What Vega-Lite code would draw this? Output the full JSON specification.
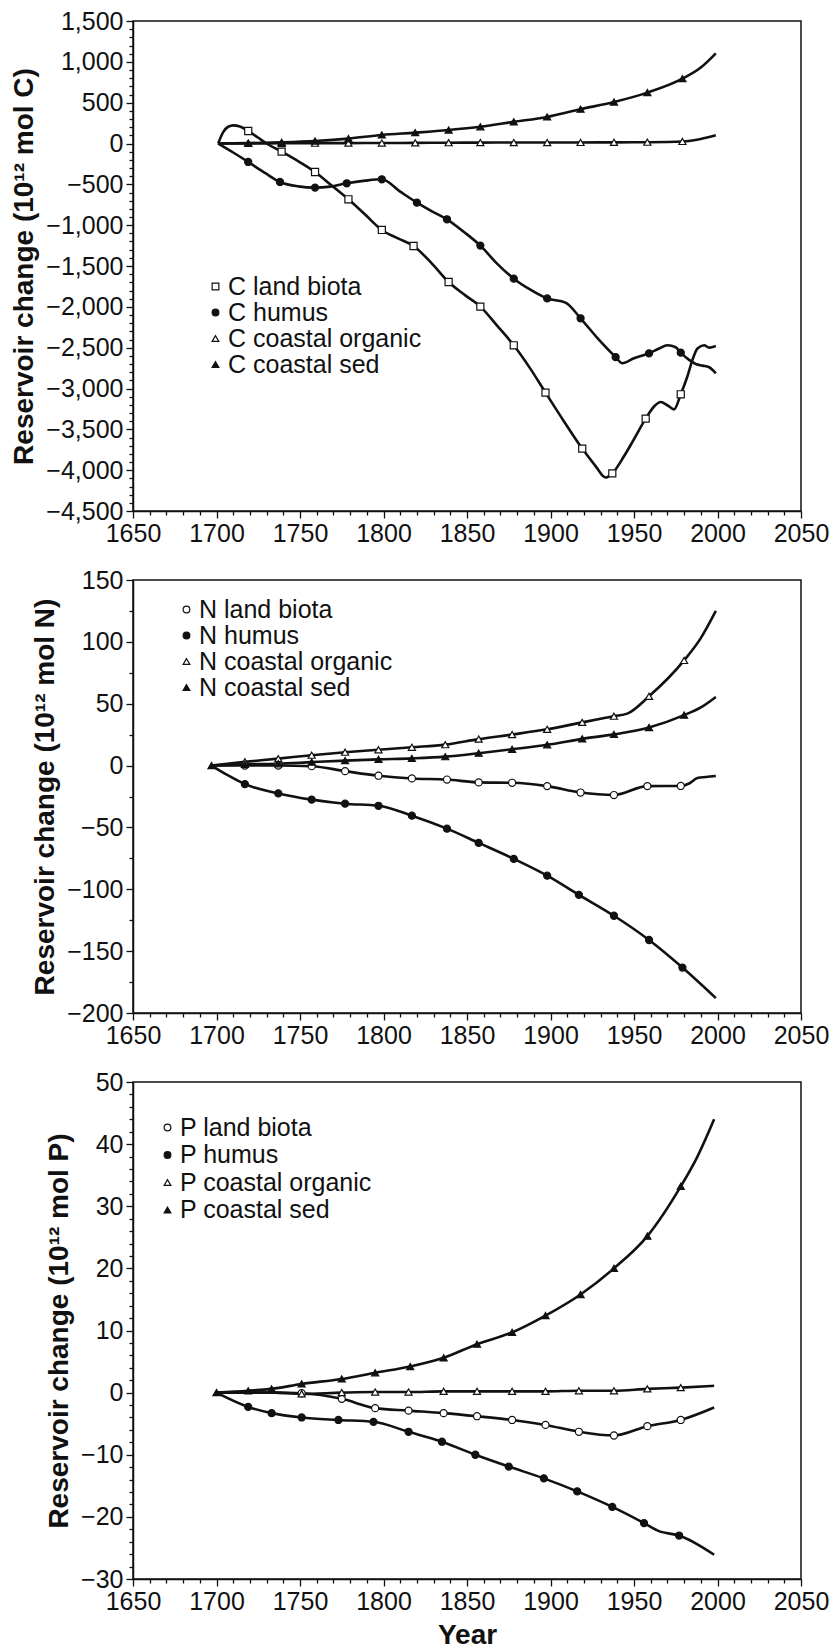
{
"$schema": "https://vega.github.io/schema/vega-lite/v6.json",
"padding": {"left": 10, "top": 8, "right": 2, "bottom": 5},
"spacing": 20,
"datasets": {
"c_line": [
{"series":"C land biota","year":1701,"value":0},{"series":"C land biota","year":1704,"value":140},{"series":"C land biota","year":1707,"value":205},{"series":"C land biota","year":1710,"value":222},{"series":"C land biota","year":1714,"value":208},{"series":"C land biota","year":1719,"value":153},{"series":"C land biota","year":1725,"value":70},{"series":"C land biota","year":1730,"value":0},{"series":"C land biota","year":1739,"value":-100},{"series":"C land biota","year":1750,"value":-230},{"series":"C land biota","year":1759,"value":-349},{"series":"C land biota","year":1769,"value":-515},{"series":"C land biota","year":1779,"value":-683},{"series":"C land biota","year":1789,"value":-870},{"series":"C land biota","year":1799,"value":-1059},{"series":"C land biota","year":1809,"value":-1165},{"series":"C land biota","year":1818,"value":-1255},{"series":"C land biota","year":1829,"value":-1470},{"series":"C land biota","year":1839,"value":-1696},{"series":"C land biota","year":1849,"value":-1860},{"series":"C land biota","year":1858,"value":-1997},{"series":"C land biota","year":1868,"value":-2230},{"series":"C land biota","year":1878,"value":-2471},{"series":"C land biota","year":1888,"value":-2760},{"series":"C land biota","year":1897,"value":-3050},{"series":"C land biota","year":1908,"value":-3400},{"series":"C land biota","year":1919,"value":-3736},{"series":"C land biota","year":1927,"value":-3950},{"series":"C land biota","year":1933,"value":-4090},{"series":"C land biota","year":1937,"value":-4040},{"series":"C land biota","year":1944,"value":-3830},{"series":"C land biota","year":1950,"value":-3620},{"series":"C land biota","year":1957,"value":-3369},{"series":"C land biota","year":1962,"value":-3220},{"series":"C land biota","year":1966,"value":-3165},{"series":"C land biota","year":1970,"value":-3205},{"series":"C land biota","year":1974,"value":-3255},{"series":"C land biota","year":1978,"value":-3071},{"series":"C land biota","year":1982,"value":-2850},{"series":"C land biota","year":1985,"value":-2650},{"series":"C land biota","year":1988,"value":-2510},{"series":"C land biota","year":1992,"value":-2470},{"series":"C land biota","year":1995,"value":-2500},{"series":"C land biota","year":1999,"value":-2480},
{"series":"C humus","year":1701,"value":0},{"series":"C humus","year":1710,"value":-110},{"series":"C humus","year":1719,"value":-226},{"series":"C humus","year":1729,"value":-360},{"series":"C humus","year":1738,"value":-471},{"series":"C humus","year":1749,"value":-525},{"series":"C humus","year":1759,"value":-540},{"series":"C humus","year":1768,"value":-528},{"series":"C humus","year":1778,"value":-487},{"series":"C humus","year":1789,"value":-455},{"series":"C humus","year":1799,"value":-438},{"series":"C humus","year":1810,"value":-590},{"series":"C humus","year":1820,"value":-724},{"series":"C humus","year":1829,"value":-830},{"series":"C humus","year":1838,"value":-928},{"series":"C humus","year":1848,"value":-1080},{"series":"C humus","year":1858,"value":-1250},{"series":"C humus","year":1868,"value":-1470},{"series":"C humus","year":1878,"value":-1655},{"series":"C humus","year":1888,"value":-1790},{"series":"C humus","year":1898,"value":-1897},{"series":"C humus","year":1909,"value":-1948},{"series":"C humus","year":1918,"value":-2140},{"series":"C humus","year":1928,"value":-2380},{"series":"C humus","year":1939,"value":-2615},{"series":"C humus","year":1943,"value":-2691},{"series":"C humus","year":1950,"value":-2630},{"series":"C humus","year":1959,"value":-2569},{"series":"C humus","year":1965,"value":-2510},{"series":"C humus","year":1970,"value":-2471},{"series":"C humus","year":1975,"value":-2495},{"series":"C humus","year":1978,"value":-2561},{"series":"C humus","year":1983,"value":-2650},{"series":"C humus","year":1987,"value":-2700},{"series":"C humus","year":1991,"value":-2720},{"series":"C humus","year":1995,"value":-2740},{"series":"C humus","year":1999,"value":-2814},
{"series":"C coastal organic","year":1701,"value":0},{"series":"C coastal organic","year":1719,"value":1},{"series":"C coastal organic","year":1739,"value":3},{"series":"C coastal organic","year":1759,"value":4},{"series":"C coastal organic","year":1779,"value":5},{"series":"C coastal organic","year":1799,"value":6},{"series":"C coastal organic","year":1819,"value":8},{"series":"C coastal organic","year":1839,"value":10},{"series":"C coastal organic","year":1858,"value":11},{"series":"C coastal organic","year":1878,"value":12},{"series":"C coastal organic","year":1898,"value":12},{"series":"C coastal organic","year":1918,"value":13},{"series":"C coastal organic","year":1938,"value":14},{"series":"C coastal organic","year":1958,"value":16},{"series":"C coastal organic","year":1979,"value":25},{"series":"C coastal organic","year":1990,"value":55},{"series":"C coastal organic","year":1999,"value":100},
{"series":"C coastal sed","year":1701,"value":0},{"series":"C coastal sed","year":1719,"value":5},{"series":"C coastal sed","year":1739,"value":15},{"series":"C coastal sed","year":1759,"value":31},{"series":"C coastal sed","year":1779,"value":60},{"series":"C coastal sed","year":1799,"value":105},{"series":"C coastal sed","year":1819,"value":133},{"series":"C coastal sed","year":1839,"value":165},{"series":"C coastal sed","year":1858,"value":205},{"series":"C coastal sed","year":1878,"value":265},{"series":"C coastal sed","year":1898,"value":325},{"series":"C coastal sed","year":1918,"value":420},{"series":"C coastal sed","year":1938,"value":508},{"series":"C coastal sed","year":1958,"value":623},{"series":"C coastal sed","year":1979,"value":794},{"series":"C coastal sed","year":1990,"value":930},{"series":"C coastal sed","year":1999,"value":1104}
],
"c_pts": [
{"series":"C land biota","year":1719,"value":153},{"series":"C land biota","year":1739,"value":-100},{"series":"C land biota","year":1759,"value":-349},{"series":"C land biota","year":1779,"value":-683},{"series":"C land biota","year":1799,"value":-1059},{"series":"C land biota","year":1818,"value":-1255},{"series":"C land biota","year":1839,"value":-1696},{"series":"C land biota","year":1858,"value":-1997},{"series":"C land biota","year":1878,"value":-2471},{"series":"C land biota","year":1897,"value":-3050},{"series":"C land biota","year":1919,"value":-3736},{"series":"C land biota","year":1937,"value":-4040},{"series":"C land biota","year":1957,"value":-3369},{"series":"C land biota","year":1978,"value":-3071},
{"series":"C humus","year":1719,"value":-226},{"series":"C humus","year":1738,"value":-471},{"series":"C humus","year":1759,"value":-540},{"series":"C humus","year":1778,"value":-487},{"series":"C humus","year":1799,"value":-438},{"series":"C humus","year":1820,"value":-724},{"series":"C humus","year":1838,"value":-928},{"series":"C humus","year":1858,"value":-1250},{"series":"C humus","year":1878,"value":-1655},{"series":"C humus","year":1898,"value":-1897},{"series":"C humus","year":1918,"value":-2140},{"series":"C humus","year":1939,"value":-2615},{"series":"C humus","year":1959,"value":-2569},{"series":"C humus","year":1978,"value":-2561},
{"series":"C coastal organic","year":1719,"value":1},{"series":"C coastal organic","year":1739,"value":3},{"series":"C coastal organic","year":1759,"value":4},{"series":"C coastal organic","year":1779,"value":5},{"series":"C coastal organic","year":1799,"value":6},{"series":"C coastal organic","year":1819,"value":8},{"series":"C coastal organic","year":1839,"value":10},{"series":"C coastal organic","year":1858,"value":11},{"series":"C coastal organic","year":1878,"value":12},{"series":"C coastal organic","year":1898,"value":12},{"series":"C coastal organic","year":1918,"value":13},{"series":"C coastal organic","year":1938,"value":14},{"series":"C coastal organic","year":1958,"value":16},{"series":"C coastal organic","year":1979,"value":25},
{"series":"C coastal sed","year":1719,"value":5},{"series":"C coastal sed","year":1739,"value":15},{"series":"C coastal sed","year":1759,"value":31},{"series":"C coastal sed","year":1779,"value":60},{"series":"C coastal sed","year":1799,"value":105},{"series":"C coastal sed","year":1819,"value":133},{"series":"C coastal sed","year":1839,"value":165},{"series":"C coastal sed","year":1858,"value":205},{"series":"C coastal sed","year":1878,"value":265},{"series":"C coastal sed","year":1898,"value":325},{"series":"C coastal sed","year":1918,"value":420},{"series":"C coastal sed","year":1938,"value":508},{"series":"C coastal sed","year":1958,"value":623},{"series":"C coastal sed","year":1979,"value":794}
],
"n_line": [
{"series":"N land biota","year":1697,"value":0},{"series":"N land biota","year":1717,"value":0},{"series":"N land biota","year":1737,"value":0},{"series":"N land biota","year":1757,"value":-0.5},{"series":"N land biota","year":1777,"value":-4.5},{"series":"N land biota","year":1797,"value":-8.2},{"series":"N land biota","year":1817,"value":-10.4},{"series":"N land biota","year":1838,"value":-11.3},{"series":"N land biota","year":1857,"value":-13.6},{"series":"N land biota","year":1877,"value":-13.9},{"series":"N land biota","year":1898,"value":-16.6},{"series":"N land biota","year":1918,"value":-21.8},{"series":"N land biota","year":1938,"value":-23.8},{"series":"N land biota","year":1958,"value":-16.6},{"series":"N land biota","year":1978,"value":-16.5},{"series":"N land biota","year":1983,"value":-14.5},{"series":"N land biota","year":1988,"value":-10},{"series":"N land biota","year":1993,"value":-9.2},{"series":"N land biota","year":1999,"value":-8.4},
{"series":"N humus","year":1697,"value":0},{"series":"N humus","year":1707,"value":-8},{"series":"N humus","year":1717,"value":-15},{"series":"N humus","year":1737,"value":-22.5},{"series":"N humus","year":1757,"value":-27.5},{"series":"N humus","year":1777,"value":-30.8},{"series":"N humus","year":1797,"value":-32.5},{"series":"N humus","year":1817,"value":-40.5},{"series":"N humus","year":1838,"value":-51},{"series":"N humus","year":1857,"value":-62.5},{"series":"N humus","year":1878,"value":-75.4},{"series":"N humus","year":1898,"value":-89},{"series":"N humus","year":1917,"value":-104.5},{"series":"N humus","year":1938,"value":-121.4},{"series":"N humus","year":1959,"value":-141},{"series":"N humus","year":1979,"value":-163.3},{"series":"N humus","year":1999,"value":-188},
{"series":"N coastal organic","year":1697,"value":0},{"series":"N coastal organic","year":1717,"value":3},{"series":"N coastal organic","year":1737,"value":5.6},{"series":"N coastal organic","year":1757,"value":8.4},{"series":"N coastal organic","year":1777,"value":10.8},{"series":"N coastal organic","year":1797,"value":12.8},{"series":"N coastal organic","year":1817,"value":14.8},{"series":"N coastal organic","year":1837,"value":16.9},{"series":"N coastal organic","year":1857,"value":21.4},{"series":"N coastal organic","year":1877,"value":25.1},{"series":"N coastal organic","year":1898,"value":29.3},{"series":"N coastal organic","year":1919,"value":34.9},{"series":"N coastal organic","year":1938,"value":39.9},{"series":"N coastal organic","year":1946,"value":42},{"series":"N coastal organic","year":1959,"value":56},{"series":"N coastal organic","year":1980,"value":85},{"series":"N coastal organic","year":1990,"value":103},{"series":"N coastal organic","year":1999,"value":125},
{"series":"N coastal sed","year":1697,"value":0},{"series":"N coastal sed","year":1717,"value":1},{"series":"N coastal sed","year":1737,"value":1.5},{"series":"N coastal sed","year":1757,"value":2.8},{"series":"N coastal sed","year":1777,"value":4},{"series":"N coastal sed","year":1797,"value":5},{"series":"N coastal sed","year":1817,"value":5.8},{"series":"N coastal sed","year":1837,"value":7.2},{"series":"N coastal sed","year":1857,"value":10},{"series":"N coastal sed","year":1877,"value":13.2},{"series":"N coastal sed","year":1898,"value":16.8},{"series":"N coastal sed","year":1919,"value":21.6},{"series":"N coastal sed","year":1938,"value":25.2},{"series":"N coastal sed","year":1959,"value":30.8},{"series":"N coastal sed","year":1980,"value":40.8},{"series":"N coastal sed","year":1990,"value":47},{"series":"N coastal sed","year":1999,"value":55.5}
],
"n_pts": [
{"series":"N land biota","year":1717,"value":0},{"series":"N land biota","year":1737,"value":0},{"series":"N land biota","year":1757,"value":-0.5},{"series":"N land biota","year":1777,"value":-4.5},{"series":"N land biota","year":1797,"value":-8.2},{"series":"N land biota","year":1817,"value":-10.4},{"series":"N land biota","year":1838,"value":-11.3},{"series":"N land biota","year":1857,"value":-13.6},{"series":"N land biota","year":1877,"value":-13.9},{"series":"N land biota","year":1898,"value":-16.6},{"series":"N land biota","year":1918,"value":-21.8},{"series":"N land biota","year":1938,"value":-23.8},{"series":"N land biota","year":1958,"value":-16.6},{"series":"N land biota","year":1978,"value":-16.5},
{"series":"N humus","year":1717,"value":-15},{"series":"N humus","year":1737,"value":-22.5},{"series":"N humus","year":1757,"value":-27.5},{"series":"N humus","year":1777,"value":-30.8},{"series":"N humus","year":1797,"value":-32.5},{"series":"N humus","year":1817,"value":-40.5},{"series":"N humus","year":1838,"value":-51},{"series":"N humus","year":1857,"value":-62.5},{"series":"N humus","year":1878,"value":-75.4},{"series":"N humus","year":1898,"value":-89},{"series":"N humus","year":1917,"value":-104.5},{"series":"N humus","year":1938,"value":-121.4},{"series":"N humus","year":1959,"value":-141},{"series":"N humus","year":1979,"value":-163.3},
{"series":"N coastal organic","year":1717,"value":3},{"series":"N coastal organic","year":1737,"value":5.6},{"series":"N coastal organic","year":1757,"value":8.4},{"series":"N coastal organic","year":1777,"value":10.8},{"series":"N coastal organic","year":1797,"value":12.8},{"series":"N coastal organic","year":1817,"value":14.8},{"series":"N coastal organic","year":1837,"value":16.9},{"series":"N coastal organic","year":1857,"value":21.4},{"series":"N coastal organic","year":1877,"value":25.1},{"series":"N coastal organic","year":1898,"value":29.3},{"series":"N coastal organic","year":1919,"value":34.9},{"series":"N coastal organic","year":1938,"value":39.9},{"series":"N coastal organic","year":1959,"value":56},{"series":"N coastal organic","year":1980,"value":85},
{"series":"N coastal sed","year":1697,"value":0},{"series":"N coastal sed","year":1717,"value":1},{"series":"N coastal sed","year":1737,"value":1.5},{"series":"N coastal sed","year":1757,"value":2.8},{"series":"N coastal sed","year":1777,"value":4},{"series":"N coastal sed","year":1797,"value":5},{"series":"N coastal sed","year":1817,"value":5.8},{"series":"N coastal sed","year":1837,"value":7.2},{"series":"N coastal sed","year":1857,"value":10},{"series":"N coastal sed","year":1877,"value":13.2},{"series":"N coastal sed","year":1898,"value":16.8},{"series":"N coastal sed","year":1919,"value":21.6},{"series":"N coastal sed","year":1938,"value":25.2},{"series":"N coastal sed","year":1959,"value":30.8},{"series":"N coastal sed","year":1980,"value":40.8}
],
"p_line": [
{"series":"P land biota","year":1700,"value":0},{"series":"P land biota","year":1719,"value":0},{"series":"P land biota","year":1735,"value":0},{"series":"P land biota","year":1751,"value":-0.1},{"series":"P land biota","year":1775,"value":-1},{"series":"P land biota","year":1795,"value":-2.5},{"series":"P land biota","year":1815,"value":-2.9},{"series":"P land biota","year":1836,"value":-3.3},{"series":"P land biota","year":1856,"value":-3.8},{"series":"P land biota","year":1877,"value":-4.4},{"series":"P land biota","year":1897,"value":-5.2},{"series":"P land biota","year":1917,"value":-6.3},{"series":"P land biota","year":1938,"value":-6.9},{"series":"P land biota","year":1958,"value":-5.4},{"series":"P land biota","year":1978,"value":-4.4},{"series":"P land biota","year":1998,"value":-2.4},
{"series":"P humus","year":1700,"value":0},{"series":"P humus","year":1719,"value":-2.3},{"series":"P humus","year":1733,"value":-3.3},{"series":"P humus","year":1751,"value":-4},{"series":"P humus","year":1773,"value":-4.4},{"series":"P humus","year":1794,"value":-4.7},{"series":"P humus","year":1815,"value":-6.3},{"series":"P humus","year":1835,"value":-7.9},{"series":"P humus","year":1855,"value":-10},{"series":"P humus","year":1875,"value":-11.9},{"series":"P humus","year":1896,"value":-13.8},{"series":"P humus","year":1916,"value":-15.9},{"series":"P humus","year":1937,"value":-18.4},{"series":"P humus","year":1956,"value":-21},{"series":"P humus","year":1965,"value":-22.3},{"series":"P humus","year":1977,"value":-23},{"series":"P humus","year":1998,"value":-26.1},
{"series":"P coastal organic","year":1700,"value":0},{"series":"P coastal organic","year":1719,"value":0},{"series":"P coastal organic","year":1735,"value":0},{"series":"P coastal organic","year":1751,"value":-0.2},{"series":"P coastal organic","year":1775,"value":0},{"series":"P coastal organic","year":1795,"value":0.1},{"series":"P coastal organic","year":1815,"value":0.1},{"series":"P coastal organic","year":1836,"value":0.2},{"series":"P coastal organic","year":1856,"value":0.2},{"series":"P coastal organic","year":1877,"value":0.2},{"series":"P coastal organic","year":1897,"value":0.2},{"series":"P coastal organic","year":1917,"value":0.3},{"series":"P coastal organic","year":1938,"value":0.3},{"series":"P coastal organic","year":1958,"value":0.6},{"series":"P coastal organic","year":1978,"value":0.8},{"series":"P coastal organic","year":1998,"value":1.1},
{"series":"P coastal sed","year":1700,"value":0},{"series":"P coastal sed","year":1719,"value":0.3},{"series":"P coastal sed","year":1733,"value":0.6},{"series":"P coastal sed","year":1751,"value":1.4},{"series":"P coastal sed","year":1775,"value":2.2},{"series":"P coastal sed","year":1795,"value":3.2},{"series":"P coastal sed","year":1816,"value":4.2},{"series":"P coastal sed","year":1836,"value":5.6},{"series":"P coastal sed","year":1856,"value":7.8},{"series":"P coastal sed","year":1877,"value":9.7},{"series":"P coastal sed","year":1897,"value":12.4},{"series":"P coastal sed","year":1918,"value":15.8},{"series":"P coastal sed","year":1938,"value":20},{"series":"P coastal sed","year":1958,"value":25.2},{"series":"P coastal sed","year":1978,"value":33.2},{"series":"P coastal sed","year":1988,"value":38},{"series":"P coastal sed","year":1998,"value":44}
],
"p_pts": [
{"series":"P land biota","year":1751,"value":-0.1},{"series":"P land biota","year":1775,"value":-1},{"series":"P land biota","year":1795,"value":-2.5},{"series":"P land biota","year":1815,"value":-2.9},{"series":"P land biota","year":1836,"value":-3.3},{"series":"P land biota","year":1856,"value":-3.8},{"series":"P land biota","year":1877,"value":-4.4},{"series":"P land biota","year":1897,"value":-5.2},{"series":"P land biota","year":1917,"value":-6.3},{"series":"P land biota","year":1938,"value":-6.9},{"series":"P land biota","year":1958,"value":-5.4},{"series":"P land biota","year":1978,"value":-4.4},
{"series":"P humus","year":1719,"value":-2.3},{"series":"P humus","year":1733,"value":-3.3},{"series":"P humus","year":1751,"value":-4},{"series":"P humus","year":1773,"value":-4.4},{"series":"P humus","year":1794,"value":-4.7},{"series":"P humus","year":1815,"value":-6.3},{"series":"P humus","year":1835,"value":-7.9},{"series":"P humus","year":1855,"value":-10},{"series":"P humus","year":1875,"value":-11.9},{"series":"P humus","year":1896,"value":-13.8},{"series":"P humus","year":1916,"value":-15.9},{"series":"P humus","year":1937,"value":-18.4},{"series":"P humus","year":1956,"value":-21},{"series":"P humus","year":1977,"value":-23},
{"series":"P coastal organic","year":1751,"value":-0.2},{"series":"P coastal organic","year":1775,"value":0},{"series":"P coastal organic","year":1795,"value":0.1},{"series":"P coastal organic","year":1815,"value":0.1},{"series":"P coastal organic","year":1836,"value":0.2},{"series":"P coastal organic","year":1856,"value":0.2},{"series":"P coastal organic","year":1877,"value":0.2},{"series":"P coastal organic","year":1897,"value":0.2},{"series":"P coastal organic","year":1917,"value":0.3},{"series":"P coastal organic","year":1938,"value":0.3},{"series":"P coastal organic","year":1958,"value":0.6},{"series":"P coastal organic","year":1978,"value":0.8},
{"series":"P coastal sed","year":1700,"value":0},{"series":"P coastal sed","year":1719,"value":0.3},{"series":"P coastal sed","year":1733,"value":0.6},{"series":"P coastal sed","year":1751,"value":1.4},{"series":"P coastal sed","year":1775,"value":2.2},{"series":"P coastal sed","year":1795,"value":3.2},{"series":"P coastal sed","year":1816,"value":4.2},{"series":"P coastal sed","year":1836,"value":5.6},{"series":"P coastal sed","year":1856,"value":7.8},{"series":"P coastal sed","year":1877,"value":9.7},{"series":"P coastal sed","year":1897,"value":12.4},{"series":"P coastal sed","year":1918,"value":15.8},{"series":"P coastal sed","year":1938,"value":20},{"series":"P coastal sed","year":1958,"value":25.2},{"series":"P coastal sed","year":1978,"value":33.2}
]
},
"vconcat": [
{
"width": 668, "height": 490,
"resolve": {"axis": {"x": "independent", "y": "independent"}},
"layer": [
{"data": {"name": "c_line"}, "mark": {"type": "line", "color": "#111", "strokeWidth": 2.6, "interpolate": "monotone"},
 "encoding": {
  "x": {"field": "year", "type": "quantitative", "scale": {"domain": [1650, 2050], "nice": false, "zero": false},
        "axis": {"orient": "bottom", "title": null, "values": [1650,1700,1750,1800,1850,1900,1950,2000,2050], "format": "d", "tickSize": 7}},
  "y": {"field": "value", "type": "quantitative", "scale": {"domain": [-4500, 1500], "nice": false, "zero": false},
        "axis": {"orient": "left", "title": "Reservoir change (10¹² mol C)", "values": [-4500,-4000,-3500,-3000,-2500,-2000,-1500,-1000,-500,0,500,1000,1500], "format": ",d", "tickSize": 7}},
  "detail": {"field": "series"}
 }},
{"data": {"name": "c_pts"}, "mark": {"type": "point", "filled": true, "strokeWidth": 1.2, "opacity": 1, "size": 50},
 "encoding": {
  "x": {"field": "year", "type": "quantitative", "axis": {"orient": "bottom", "title": null, "labels": false, "domain": false, "tickSize": 4, "values": [1660,1670,1680,1690,1710,1720,1730,1740,1760,1770,1780,1790,1810,1820,1830,1840,1860,1870,1880,1890,1910,1920,1930,1940,1960,1970,1980,1990,2010,2020,2030,2040]}},
  "y": {"field": "value", "type": "quantitative", "axis": {"orient": "left", "title": null, "labels": false, "domain": false, "tickSize": 4, "values": [-4400,-4300,-4200,-4100,-3900,-3800,-3700,-3600,-3400,-3300,-3200,-3100,-2900,-2800,-2700,-2600,-2400,-2300,-2200,-2100,-1900,-1800,-1700,-1600,-1400,-1300,-1200,-1100,-900,-800,-700,-600,-400,-300,-200,-100,100,200,300,400,600,700,800,900,1100,1200,1300,1400]}},
  "shape": {"field": "series", "type": "nominal", "scale": {"domain": ["C land biota","C humus","C coastal organic","C coastal sed"], "range": ["square","circle","triangle-up","triangle-up"]},
            "legend": {"title": null, "orient": "none", "legendX": 70, "legendY": 253, "rowPadding": -1}},
  "fill": {"field": "series", "type": "nominal", "scale": {"domain": ["C land biota","C humus","C coastal organic","C coastal sed"], "range": ["white","#111","white","#111"]},
            "legend": {"title": null, "orient": "none", "legendX": 70, "legendY": 253, "rowPadding": -1}},
  "stroke": {"field": "series", "type": "nominal", "scale": {"domain": ["C land biota","C humus","C coastal organic","C coastal sed"], "range": ["#111","#111","#111","#111"]},
            "legend": {"title": null, "orient": "none", "legendX": 70, "legendY": 253, "rowPadding": -1}}
 }}
]
},
{
"width": 668, "height": 433,
"resolve": {"axis": {"x": "independent", "y": "independent"}},
"layer": [
{"data": {"name": "n_line"}, "mark": {"type": "line", "color": "#111", "strokeWidth": 2.6, "interpolate": "monotone"},
 "encoding": {
  "x": {"field": "year", "type": "quantitative", "scale": {"domain": [1650, 2050], "nice": false, "zero": false},
        "axis": {"orient": "bottom", "title": null, "values": [1650,1700,1750,1800,1850,1900,1950,2000,2050], "format": "d", "tickSize": 7}},
  "y": {"field": "value", "type": "quantitative", "scale": {"domain": [-200, 150], "nice": false, "zero": false},
        "axis": {"orient": "left", "title": "Reservoir change (10¹² mol N)", "values": [-200,-150,-100,-50,0,50,100,150], "format": ",d", "tickSize": 7}},
  "detail": {"field": "series"}
 }},
{"data": {"name": "n_pts"}, "mark": {"type": "point", "filled": true, "strokeWidth": 1.2, "opacity": 1, "size": 50},
 "encoding": {
  "x": {"field": "year", "type": "quantitative", "axis": {"orient": "bottom", "title": null, "labels": false, "domain": false, "tickSize": 4, "values": [1660,1670,1680,1690,1710,1720,1730,1740,1760,1770,1780,1790,1810,1820,1830,1840,1860,1870,1880,1890,1910,1920,1930,1940,1960,1970,1980,1990,2010,2020,2030,2040]}},
  "y": {"field": "value", "type": "quantitative", "axis": {"orient": "left", "title": null, "labels": false, "domain": false, "tickSize": 4, "values": [-175,-125,-75,-25,25,75,125]}},
  "shape": {"field": "series", "type": "nominal", "scale": {"domain": ["N land biota","N humus","N coastal organic","N coastal sed"], "range": ["circle","circle","triangle-up","triangle-up"]},
            "legend": {"title": null, "orient": "none", "legendX": 41, "legendY": 17, "rowPadding": 0}},
  "fill": {"field": "series", "type": "nominal", "scale": {"domain": ["N land biota","N humus","N coastal organic","N coastal sed"], "range": ["white","#111","white","#111"]},
            "legend": {"title": null, "orient": "none", "legendX": 41, "legendY": 17, "rowPadding": 0}},
  "stroke": {"field": "series", "type": "nominal", "scale": {"domain": ["N land biota","N humus","N coastal organic","N coastal sed"], "range": ["#111","#111","#111","#111"]},
            "legend": {"title": null, "orient": "none", "legendX": 41, "legendY": 17, "rowPadding": 0}}
 }}
]
},
{
"width": 668, "height": 497,
"resolve": {"axis": {"x": "independent", "y": "independent"}},
"layer": [
{"data": {"name": "p_line"}, "mark": {"type": "line", "color": "#111", "strokeWidth": 2.6, "interpolate": "monotone"},
 "encoding": {
  "x": {"field": "year", "type": "quantitative", "scale": {"domain": [1650, 2050], "nice": false, "zero": false},
        "axis": {"orient": "bottom", "title": "Year", "values": [1650,1700,1750,1800,1850,1900,1950,2000,2050], "format": "d", "tickSize": 7}},
  "y": {"field": "value", "type": "quantitative", "scale": {"domain": [-30, 50], "nice": false, "zero": false},
        "axis": {"orient": "left", "title": "Reservoir change (10¹² mol P)", "values": [-30,-20,-10,0,10,20,30,40,50], "format": ",d", "tickSize": 7}},
  "detail": {"field": "series"}
 }},
{"data": {"name": "p_pts"}, "mark": {"type": "point", "filled": true, "strokeWidth": 1.2, "opacity": 1, "size": 50},
 "encoding": {
  "x": {"field": "year", "type": "quantitative", "axis": {"orient": "bottom", "title": null, "labels": false, "domain": false, "tickSize": 4, "values": [1660,1670,1680,1690,1710,1720,1730,1740,1760,1770,1780,1790,1810,1820,1830,1840,1860,1870,1880,1890,1910,1920,1930,1940,1960,1970,1980,1990,2010,2020,2030,2040]}},
  "y": {"field": "value", "type": "quantitative", "axis": {"orient": "left", "title": null, "labels": false, "domain": false, "tickSize": 4, "values": [-28,-26,-24,-22,-18,-16,-14,-12,-8,-6,-4,-2,2,4,6,8,12,14,16,18,22,24,26,28,32,34,36,38,42,44,46,48]}},
  "shape": {"field": "series", "type": "nominal", "scale": {"domain": ["P land biota","P humus","P coastal organic","P coastal sed"], "range": ["circle","circle","triangle-up","triangle-up"]},
            "legend": {"title": null, "orient": "none", "legendX": 22, "legendY": 33, "rowPadding": 1.5}},
  "fill": {"field": "series", "type": "nominal", "scale": {"domain": ["P land biota","P humus","P coastal organic","P coastal sed"], "range": ["white","#111","white","#111"]},
            "legend": {"title": null, "orient": "none", "legendX": 22, "legendY": 33, "rowPadding": 1.5}},
  "stroke": {"field": "series", "type": "nominal", "scale": {"domain": ["P land biota","P humus","P coastal organic","P coastal sed"], "range": ["#111","#111","#111","#111"]},
            "legend": {"title": null, "orient": "none", "legendX": 22, "legendY": 33, "rowPadding": 1.5}}
 }}
]
}
],
"resolve": {"scale": {"shape": "independent", "fill": "independent", "stroke": "independent"}},
"config": {
 "font": "Liberation Sans",
 "background": "white",
 "view": {"stroke": "#111", "strokeWidth": 1.5},
 "axis": {"domainColor": "#111", "domainWidth": 1.5, "tickColor": "#111", "tickWidth": 1.3, "labelFont": "Liberation Sans", "labelFontSize": 25, "labelColor": "#111", "labelPadding": 3, "titleFont": "Liberation Sans", "titleFontSize": 28, "titleFontWeight": "bold", "titleColor": "#111", "titlePadding": 7, "grid": false, "labelOverlap": false, "labelBound": false, "labelFlush": false},
 "legend": {"labelFont": "Liberation Sans", "labelFontSize": 25, "labelColor": "#111", "labelLimit": 400, "symbolStrokeWidth": 1.2, "symbolSize": 45, "labelOffset": 0, "padding": 0}
}
}
